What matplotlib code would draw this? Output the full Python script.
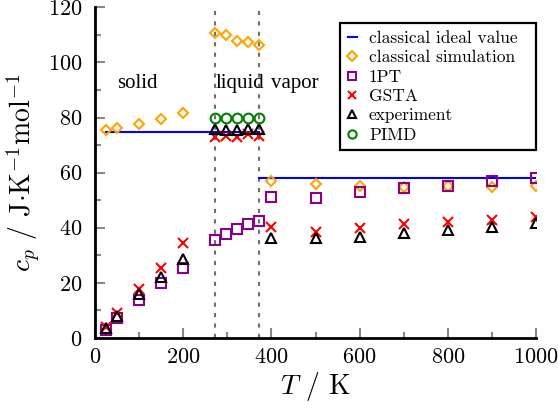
import matplotlib
matplotlib.use("Agg")
import matplotlib.pyplot as plt
from matplotlib.ticker import MultipleLocator

plt.rcParams['font.family'] = ['cmr10', 'DejaVu Serif']
plt.rcParams['mathtext.fontset'] = 'cm'
plt.rcParams['axes.formatter.use_mathtext'] = True

# Temperatures (K)
T_solid = [25, 50, 100, 150, 200]
T_liquid = [273, 298, 323, 348, 373]
T_vapor = [400, 500, 600, 700, 800, 900, 1000]

# classical ideal values
ideal_solid_T = [25, 373]
ideal_solid = [74.8, 74.8]
ideal_vapor_T = [373, 1000]
ideal_vapor = [58.2, 58.2]

# classical simulation
cs_solid = [75.6, 76.2, 77.7, 79.3, 81.5]
cs_liquid = [110.8, 109.8, 107.8, 107.4, 106.4]
cs_vapor = [57.0, 56.0, 55.3, 54.9, 55.3, 54.6, 55.1]

# 1PT
pt_solid = [2.9, 7.1, 13.9, 19.9, 25.5]
pt_liquid = [35.5, 37.7, 39.4, 41.4, 42.5]
pt_vapor = [51.0, 50.7, 53.0, 54.3, 55.3, 57.1, 57.9]

# GSTA
gs_solid = [3.8, 8.9, 17.8, 25.2, 34.3]
gs_liquid = [72.8, 73.2, 73.1, 74.0, 73.3]
gs_vapor = [40.4, 38.3, 39.8, 41.3, 42.0, 42.9, 43.8]

# experiment
ex_solid = [3.5, 8.0, 16.0, 22.1, 28.6]
ex_liquid = [76.0, 75.5, 75.5, 75.7, 76.0]
ex_vapor = [36.2, 36.2, 36.7, 38.0, 39.2, 40.4, 41.6]

# PIMD
pimd_liquid = [79.8, 79.8, 79.8, 79.8, 79.8]

phase_T = [273, 373]

fig = plt.figure(figsize=(5.58, 4.09), dpi=100)
ax = fig.add_axes([0.170, 0.174, 0.791, 0.808])

for t in phase_T:
    ax.axvline(t, color='#707070', ls=(0, (2, 3)), lw=1.5, zorder=1)

ax.plot(ideal_solid_T, ideal_solid, color='blue', lw=1.5, zorder=2,
        label='classical ideal value')
ax.plot(ideal_vapor_T, ideal_vapor, color='blue', lw=1.5, zorder=2)

Ts = T_solid + T_liquid + T_vapor
mk = dict(ls='none', mfc='none', mew=1.5, zorder=3)
ax.plot(Ts, cs_solid + cs_liquid + cs_vapor, marker='D', ms=5.5, mec='#FFA500',
        label='classical simulation', **mk)
ax.plot(Ts, pt_solid + pt_liquid + pt_vapor, marker='s', ms=7.5, mec='#8B008B',
        label='1PT', **mk)
ax.plot(Ts, gs_solid + gs_liquid + gs_vapor, marker='x', ms=7, mec='red',
        label='GSTA', **mk)
ax.plot(Ts, ex_solid + ex_liquid + ex_vapor, marker='^', ms=7, mec='black',
        label='experiment', **mk)
ax.plot(T_liquid, pimd_liquid, marker='o', ms=7, mec='green', label='PIMD', **mk)

ax.set_xlim(0, 1000)
ax.set_ylim(0, 120)
ax.xaxis.set_major_locator(MultipleLocator(200))
ax.xaxis.set_minor_locator(MultipleLocator(100))
ax.yaxis.set_major_locator(MultipleLocator(20))
ax.yaxis.set_minor_locator(MultipleLocator(10))
ax.tick_params(which='both', direction='in', color='#888888', width=1.5,
               labelsize=16, top=False, right=False)
ax.tick_params(which='major', length=7, pad=7)
ax.tick_params(which='minor', length=4.5)
ax.tick_params(axis='y', which='major', pad=9)
for s in ['top', 'right']:
    ax.spines[s].set_visible(False)
for s in ['left', 'bottom']:
    ax.spines[s].set_linewidth(2)

ax.set_xlabel(r'$T$ / K', fontsize=20, labelpad=2)
ax.set_ylabel(r'$c_p$ / J$\cdot$K$^{-1}$mol$^{-1}$', fontsize=20, labelpad=4)

tfont = dict(family=['Liberation Serif', 'DejaVu Serif'], fontsize=15, va='center')
ax.text(50, 92.3, 'solid', **tfont)
ax.text(274, 92.3, 'liquid', **tfont)
ax.text(400, 92.3, 'vapor', **tfont)

leg = ax.legend(loc='upper left', bbox_to_anchor=(0.556, 0.953, 0.444, 0.0),
                mode='expand', fontsize=12.5,
                handlelength=0.5, handletextpad=0.7, borderpad=0.45,
                labelspacing=0.23, borderaxespad=0, fancybox=False, framealpha=1,
                edgecolor='black', markerscale=0.85)
leg.get_frame().set_linewidth(1.6)

fig.savefig('out.png', dpi=100)
